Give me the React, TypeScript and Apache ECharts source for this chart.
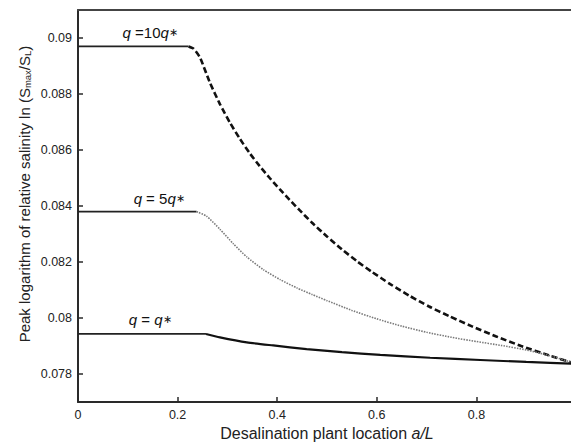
import React, { useEffect, useRef } from "react";
import * as echarts from "echarts";

const FONT = "'Liberation Sans', Arial, Helvetica, sans-serif";

// Flat (plateau) parts, solid
const flatX10 = [0, 0.222];
const flatY10 = [0.0897, 0.0897];
const flatX5 = [0, 0.238];
const flatY5 = [0.0838, 0.0838];
const flatX1 = [0, 0.257];
const flatY1 = [0.07943, 0.07943];

// Decaying parts
const curveX10 = [0.222, 0.232, 0.245, 0.265, 0.285, 0.305, 0.325, 0.345, 0.365, 0.385, 0.405, 0.425, 0.445, 0.47, 0.5, 0.53, 0.56, 0.59, 0.627, 0.665, 0.705, 0.745, 0.79, 0.84, 0.89, 0.945, 1.0];
const curveY10 = [0.0897, 0.08962, 0.0893, 0.0884, 0.08764, 0.08698, 0.0864, 0.08588, 0.08542, 0.085, 0.0846, 0.08422, 0.08385, 0.0834, 0.08291, 0.08245, 0.08203, 0.08165, 0.08121, 0.0808, 0.08041, 0.08007, 0.07971, 0.07934, 0.079, 0.07867, 0.07836];

const curveX5 = [0.238, 0.258, 0.285, 0.312, 0.339, 0.372, 0.406, 0.44, 0.47, 0.5, 0.55, 0.6, 0.65, 0.7, 0.75, 0.8, 0.85, 0.9, 0.95, 1.0];
const curveY5 = [0.0838, 0.08364, 0.08317, 0.08265, 0.08218, 0.08173, 0.08137, 0.08107, 0.08084, 0.08062, 0.08027, 0.07997, 0.07971, 0.07949, 0.07931, 0.07916, 0.07902, 0.07886, 0.07864, 0.07836];

const curveX1 = [0.257, 0.285, 0.339, 0.392, 0.459, 0.53, 0.607, 0.707, 0.808, 0.9, 1.0];
const curveY1 = [0.07943, 0.07931, 0.07913, 0.07902, 0.07889, 0.07878, 0.07868, 0.07858, 0.0785, 0.07843, 0.07836];

// Curve annotations
const labelTexts = ["{i|q} =10{i|q}{s|\u2217}", "{i|q} = 5{i|q}{s|\u2217}", "{i|q} = {i|q}{s|\u2217}"];
const labelX = [0.145, 0.163, 0.145];
const labelY = [0.0902, 0.08427, 0.07995];

const zip = (xs: number[], ys: number[]) => xs.map((x, i) => [x, ys[i]]);

const richLabel = {
  i: { fontStyle: "italic", fontSize: 15, fontFamily: FONT, color: "#111" },
  s: { fontSize: 11, fontFamily: FONT, color: "#111" },
};

export default function App() {
  const ref = useRef<HTMLDivElement>(null);
  useEffect(() => {
    if (!ref.current) return;
    const chart = echarts.init(ref.current, undefined, { renderer: "svg" });
    const flatStyle = { color: "#222", width: 1.8, type: "solid" as const };
    const mk = (idx: number) => ({
      symbol: "circle",
      symbolSize: 0,
      data: [{ coord: [labelX[idx], labelY[idx]], value: 0 }],
      label: {
        show: true,
        position: "inside",
        formatter: labelTexts[idx],
        fontSize: 15,
        fontFamily: FONT,
        color: "#111",
        rich: richLabel,
      },
    });
    chart.setOption({
      animation: false,
      backgroundColor: "#ffffff",
      textStyle: { fontFamily: FONT },
      grid: { left: 78, right: -5, top: 10, bottom: 40, outerBoundsMode: "none", containLabel: false },
      xAxis: [
        {
          type: "value",
          min: 0,
          max: 1,
          interval: 0.2,
          position: "bottom",
          name: "Desalination plant location {it|a/L}",
          nameLocation: "middle",
          nameGap: 23,
          nameTextStyle: {
            fontSize: 16,
            color: "#222",
            fontFamily: FONT,
            rich: { it: { fontStyle: "italic", fontSize: 16, color: "#222", fontFamily: FONT } },
          },
          axisLine: { show: true, lineStyle: { color: "#2a2a2a", width: 2 } },
          axisTick: { show: true, inside: true, length: 5, lineStyle: { color: "#2a2a2a", width: 1.5 } },
          axisLabel: { fontSize: 12.5, color: "#222", margin: 6, fontFamily: FONT },
          splitLine: { show: false },
        },
        {
          type: "value",
          min: 0,
          max: 1,
          position: "top",
          axisLine: { show: true, lineStyle: { color: "#444", width: 2 } },
          axisTick: { show: false },
          axisLabel: { show: false },
          splitLine: { show: false },
        },
      ],
      yAxis: {
        type: "value",
        min: 0.077,
        max: 0.091,
        splitNumber: 7,
        axisLine: { show: true, lineStyle: { color: "#2a2a2a", width: 2 } },
        axisTick: { show: true, inside: true, length: 5, lineStyle: { color: "#2a2a2a", width: 1.5 } },
        axisLabel: {
          fontSize: 12.5,
          color: "#222",
          margin: 6,
          fontFamily: FONT,
          showMinLabel: false,
          showMaxLabel: false,
        },
        splitLine: { show: false },
      },
      graphic: [
        {
          type: "text",
          x: 24,
          y: 194,
          rotation: Math.PI / 2,
          style: {
            text: "Peak logarithm of relative salinity ln (S{sub|max}/S{sub|L})",
            fill: "#222",
            font: `15px ${FONT}`,
            align: "center",
            verticalAlign: "middle",
            rich: {
              sub: { fontSize: 9.5, fill: "#222", fontFamily: FONT, verticalAlign: "bottom", padding: [6, 0, 0, 0] },
            },
          },
        },
      ],
      series: [
        { type: "line", name: "10q flat", data: zip(flatX10, flatY10), showSymbol: false, lineStyle: flatStyle, markPoint: mk(0) },
        { type: "line", name: "5q flat", data: zip(flatX5, flatY5), showSymbol: false, lineStyle: flatStyle, markPoint: mk(1) },
        { type: "line", name: "q flat", data: zip(flatX1, flatY1), showSymbol: false, lineStyle: flatStyle, markPoint: mk(2) },
        {
          type: "line",
          name: "10q",
          data: zip(curveX10, curveY10),
          showSymbol: false,
          smooth: 0.2,
          lineStyle: { color: "#111", width: 2.6, type: [6, 3] },
        },
        {
          type: "line",
          name: "5q",
          data: zip(curveX5, curveY5),
          showSymbol: false,
          smooth: 0.2,
          lineStyle: { color: "#7a7a7a", width: 1.6, type: [1.5, 1.2] },
        },
        {
          type: "line",
          name: "q",
          data: zip(curveX1, curveY1),
          showSymbol: false,
          smooth: 0.2,
          lineStyle: { color: "#111", width: 2.2, type: "solid" },
        },
      ],
    });
    return () => chart.dispose();
  }, []);
  return (
    <div
      ref={ref}
      style={{ position: "fixed", left: 0, top: 0, width: 571, height: 442, background: "#fff" }}
    />
  );
}
